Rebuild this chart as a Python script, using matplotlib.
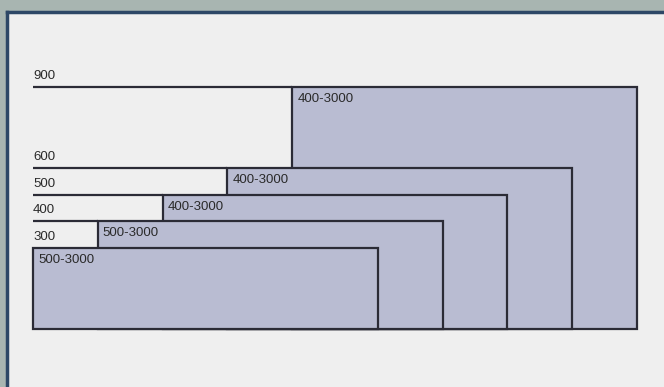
import matplotlib
matplotlib.use("Agg")
import matplotlib.pyplot as plt

# nested ranges, drawn back to front
heights = [900, 600, 500, 400, 300]
range_labels = ["400-3000", "400-3000", "400-3000", "500-3000", "500-3000"]
offsets = [4, 3, 2, 1, 0]
box_width = 5.32

fill = "#b9bcd2"
edge = "#2b2b36"

plt.rcParams["font.family"] = ["Liberation Sans", "DejaVu Sans"]

fig = plt.figure(figsize=(6.64, 3.87), dpi=100, facecolor="#a8b5b1")
ax = fig.add_axes([7 / 664, 0, 657 / 664, 375 / 387])
ax.set_facecolor("#efefef")

px_x = 1 / 64.8      # x units per pixel
px_y = 1 / 0.2688    # y units per pixel
ax.set_xlim(-26 * px_x, 631 * px_x)
ax.set_ylim(-58 * px_y, 317 * px_y)

for h, lab, off in zip(heights, range_labels, offsets):
    ax.bar(off, h, width=box_width, align="edge", color=fill,
           edgecolor=edge, linewidth=1.6, zorder=2)
    if off > 0:
        ax.hlines(h, 0, off, color=edge, linewidth=1.6, zorder=2)
    ax.text(0, h + 5 * px_y, str(h), ha="left", va="bottom",
            fontsize=9.5, color="#2a2a2a", zorder=3)
    ax.text(off + 5 * px_x, h - 6 * px_y, lab, ha="left", va="top",
            fontsize=9.5, color="#2a2a2a", zorder=3)

ax.set_xticks([])
ax.set_yticks([])
for s in ["right", "bottom"]:
    ax.spines[s].set_visible(False)
for s in ["left", "top"]:
    ax.spines[s].set_color("#2d4766")
    ax.spines[s].set_linewidth(2.5)

fig.savefig("out.png", dpi=100, facecolor=fig.get_facecolor())
